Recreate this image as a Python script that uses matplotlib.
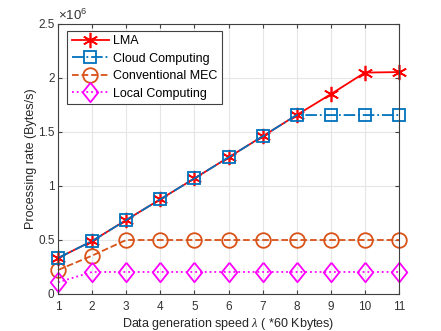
import matplotlib
matplotlib.use("Agg")
import matplotlib.pyplot as plt
from matplotlib.ticker import FuncFormatter

plt.rcParams['font.family'] = ['Liberation Sans', 'DejaVu Sans']
plt.rcParams['mathtext.fontset'] = 'custom'
plt.rcParams['mathtext.it'] = 'Liberation Serif:italic'
plt.rcParams['mathtext.rm'] = 'Liberation Sans'

speed = [1, 2, 3, 4, 5, 6, 7, 8, 9, 10, 11]
lma = [0.333, 0.49, 0.685, 0.877, 1.07, 1.265, 1.46, 1.657, 1.85, 2.05, 2.055]
cloud = [0.333, 0.49, 0.685, 0.877, 1.07, 1.265, 1.46, 1.657, 1.657, 1.657, 1.657]
mec = [0.222, 0.355, 0.5, 0.5, 0.5, 0.5, 0.5, 0.5, 0.5, 0.5, 0.5]
local = [0.108, 0.204, 0.204, 0.204, 0.204, 0.204, 0.204, 0.204, 0.204, 0.204, 0.204]
yticks = [0, 0.5, 1, 1.5, 2, 2.5]
scale = 1e6

fig = plt.figure(figsize=(4.41, 3.31), dpi=100)
ax = fig.add_axes([58/441, 1-294/331, (399-58)/441, (294-24)/331])

blue = (0, 0.447, 0.741)
orange = (0.85, 0.325, 0.098)
diamond = [(0, 1), (0.8, 0), (0, -1), (-0.8, 0), (0, 1)]
kw = dict(lw=1.3, mew=1.3, mfc='none', clip_on=False)
ax.plot(speed, [v*scale for v in lma], color='red', ls='-', marker=(6, 2, 0), ms=11,
        lw=1.3, mew=1.2, clip_on=False, label='LMA', zorder=2)
ax.plot(speed, [v*scale for v in cloud], color=blue, ls='-.', marker='s', ms=8,
        label='Cloud Computing', zorder=2.1, **kw)
ax.plot(speed, [v*scale for v in mec], color=orange, ls='--', marker='o', ms=10.5,
        label='Conventional MEC', zorder=2, **kw)
ax.plot(speed, [v*scale for v in local], color='magenta', ls=':', marker=diamond, ms=14,
        label='Local Computing', zorder=2, **kw)

leg = ax.legend(loc='upper left', bbox_to_anchor=(0.02, 0.985), fontsize=9, fancybox=False,
                edgecolor='0.25', framealpha=1, handlelength=3.0, handletextpad=0.3,
                borderpad=0.35, labelspacing=0.45, borderaxespad=0.2)
leg.get_frame().set_linewidth(0.8)

ax.set_xlim(1, 11)
ax.set_ylim(0, 2.5e6)
ax.set_xticks(speed)
ax.set_yticks([t*scale for t in yticks])
ax.yaxis.set_major_formatter(FuncFormatter(lambda v, p: f'{v/scale:g}'))
ax.text(0.0, 1.004, r'$\times\mathregular{10^{6}}$', transform=ax.transAxes, fontsize=9.5,
        color='0.2', ha='left', va='bottom')
ax.grid(True, color='0.9', lw=0.8)
ax.set_axisbelow(True)
ax.tick_params(direction='in', labelsize=8.5, color='0.25', labelcolor='0.2',
               top=True, right=True, length=3)
ax.tick_params(axis='y', pad=2.5)
ax.tick_params(axis='x', pad=5)
for s in ax.spines.values():
    s.set_color('0.25')
    s.set_linewidth(0.8)
ax.set_xlabel(r'Data generation speed $\lambda$ ( *60 Kbytes)', fontsize=9, color='0.15', labelpad=2)
ax.set_ylabel('Processing rate (Bytes/s)', fontsize=9, color='0.15', labelpad=1)

fig.savefig('out.png', dpi=100)
